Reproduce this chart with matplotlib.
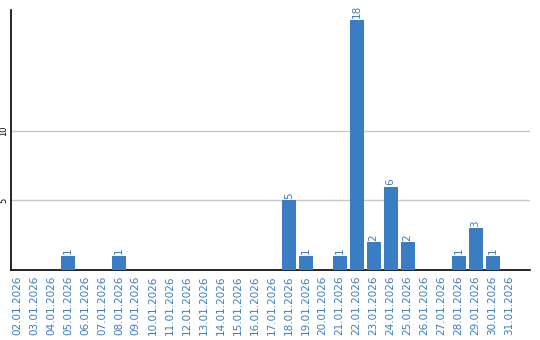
import matplotlib
matplotlib.use("Agg")
import matplotlib.pyplot as plt

# daily counts, January 2026
dates = ["%02d.01.2026" % d for d in range(2, 32)]
counts = [0, 0, 0, 1, 0, 0, 1, 0, 0, 0, 0, 0, 0, 0, 0, 0,
          5, 1, 0, 1, 18, 2, 6, 2, 0, 0, 1, 3, 1, 0]
yticks = [5, 10]

BLUE = "#3a7dc2"

fig = plt.figure(figsize=(5.4, 3.4), dpi=100)
ax = fig.add_axes([11 / 540, 1 - 270 / 340, 519 / 540, 260 / 340])

x = list(range(len(dates)))
ax.bar(x, counts, width=0.82, color=BLUE, zorder=3)

for xi, c in zip(x, counts):
    if c > 0:
        ax.text(xi, c + 0.12, str(c), rotation=90, ha="center", va="bottom",
                color=BLUE, fontsize=7.5)

ax.set_xlim(-0.35, 30.2)
ax.set_ylim(0, 18.7)

ax.set_yticks(yticks)
ax.set_yticklabels([str(t) for t in yticks], rotation=90, va="center",
                   fontsize=6, color="black")
ax.yaxis.grid(True, color="#c8c8c8", linewidth=1, zorder=0)

ax.set_xticks(x)
ax.set_xticklabels(dates, rotation=90, fontsize=7.5, color=BLUE)
ax.tick_params(axis="both", length=0, pad=4)
ax.tick_params(axis="y", pad=2)

for s in ["top", "right"]:
    ax.spines[s].set_visible(False)
ax.spines["left"].set_linewidth(1.2)
ax.spines["bottom"].set_linewidth(1.2)

fig.savefig("out.png", dpi=100, facecolor="white")
